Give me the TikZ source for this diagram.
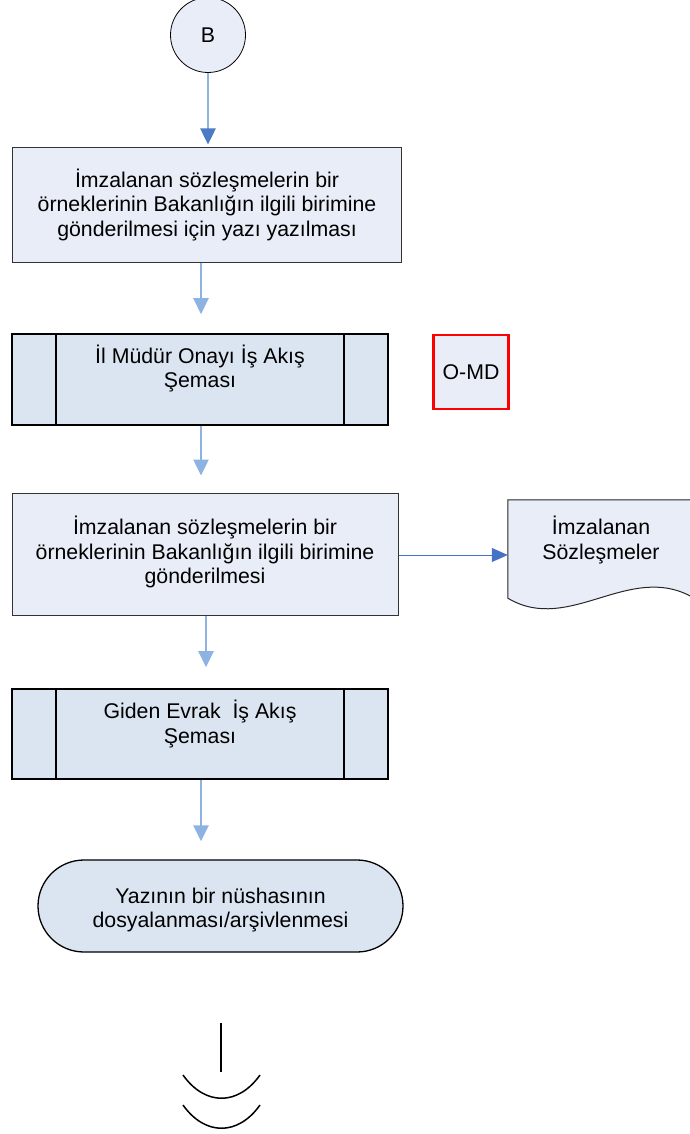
\documentclass[tikz,border=0pt]{standalone}
\usepackage{fontspec}
\setmainfont{Liberation Sans}
\usetikzlibrary{arrows.meta,calc}
\definecolor{fillA}{HTML}{E9EDF7}
\definecolor{fillB}{HTML}{DBE5F1}
\definecolor{lineblue}{HTML}{8DB3E2}
\definecolor{headblue}{HTML}{4A7BC4}
\definecolor{darkblue}{HTML}{4472C4}
\definecolor{redc}{HTML}{FF0000}
\tikzset{
  txt/.style={align=center, inner sep=0pt, font=\fontsize{21.3}{24.5}\selectfont},
  procbox/.style={txt, draw=black!80, line width=1pt, fill=fillA},
  pproc/.style={draw=black, line width=1.6pt, fill=fillB, inner sep=0pt},
  flow/.style={draw=lineblue, line width=2.5pt, -{Triangle[length=16pt,width=15pt,fill=lineblue]}},
  flowdark/.style={draw=lineblue, line width=2.5pt, -{Triangle[length=16pt,width=15pt,fill=headblue,color=headblue]}},
  sideflow/.style={draw=darkblue, line width=1pt, -{Triangle[length=16pt,width=14pt,fill=darkblue,color=darkblue]}},
}
\begin{document}
\begin{tikzpicture}[x=1pt,y=-1pt]
\useasboundingbox (0,0) rectangle (690,1134);
% connector B
\node[txt, circle, draw=black, line width=0.8pt, fill=fillA, minimum size=75pt] (B) at (208,35) {B};
% box 1
\node[procbox, minimum width=389pt, minimum height=114pt] (b1) at (207,205) {İmzalanan sözleşmelerin bir\\örneklerinin Bakanlığın ilgili birimine\\gönderilmesi için yazı yazılması};
% box 2 (predefined process)
\node[pproc, minimum width=376pt, minimum height=91pt] (b2) at (200,379.5) {};
\draw[line width=1.6pt] ($(b2.north west)+(45,0)$) -- ($(b2.south west)+(45,0)$);
\draw[line width=1.6pt] ($(b2.north east)+(-45,0)$) -- ($(b2.south east)+(-45,0)$);
\node[txt] (t2) at ($(b2.center)+(0,-11)$) {İl Müdür Onayı İş Akış\\Şeması};
% O-MD
\node[txt, draw=redc, line width=2.5pt, fill=fillA, minimum width=75pt, minimum height=74pt] (omd) at (471,372) {O-MD};
% box 3
\node[procbox, minimum width=386pt, minimum height=122pt] (b3) at (205,554) {};
\node[txt] (t3) at ($(b3.center)+(0,-2)$) {İmzalanan sözleşmelerin bir\\örneklerinin Bakanlığın ilgili birimine\\gönderilmesi};
% document
\node[inner sep=0pt, minimum width=186pt, minimum height=98pt] (doc) at (601,549) {};
\path[draw=black!85, line width=1pt, fill=fillA] (doc.south west) -- (doc.north west) -- (doc.north east) -- (doc.south east)
  .. controls ($(doc.south east)+(-64,-38)$) and ($(doc.south west)+(62,37)$) .. (doc.south west) -- cycle;
\node[txt] (tdoc) at ($(doc.center)+(0,-9)$) {İmzalanan\\Sözleşmeler};
% box 4 (predefined process)
\node[pproc, minimum width=376pt, minimum height=90pt] (b4) at (200,734) {};
\draw[line width=1.6pt] ($(b4.north west)+(45,0)$) -- ($(b4.south west)+(45,0)$);
\draw[line width=1.6pt] ($(b4.north east)+(-45,0)$) -- ($(b4.south east)+(-45,0)$);
\node[txt] (t4) at ($(b4.center)+(0,-10)$) {Giden Evrak \ İş Akış\\Şeması};
% terminal
\node[txt, draw=black, line width=1.3pt, fill=fillB, rounded corners=46pt, minimum width=365pt, minimum height=92pt] (term) at (220.5,906) {};
\node[txt] (tt) at ($(term.center)+(0,4)$) {Yazının bir nüshasının\\dosyalanması/arşivlenmesi};
% arrows
\coordinate (x1) at (208,0);
\coordinate (x2) at (201,0);
\coordinate (x3) at (201,0);
\coordinate (x4) at (206,0);
\coordinate (x5) at (201,0);
\draw[flowdark, shorten >=3pt] (B.south) -- (b1.north -| x1);
\draw[flow, shorten >=19pt] (b1.south -| x2) -- (b2.north -| x2);
\draw[flow, shorten >=17pt] (b2.south -| x3) -- (b3.north -| x3);
\draw[flow, shorten >=21pt] (b3.south -| x4) -- (b4.north -| x4);
\draw[flow, shorten >=18pt] (b4.south -| x5) -- (term.north -| x5);
\coordinate (dy) at (0,555);
\draw[sideflow] (b3.east |- dy) -- (doc.west |- dy);
% off-page continuation mark
\coordinate (v1) at (221,1023);
\coordinate (v2) at (221,1072);
\draw[line width=1.5pt] (v1) -- (v2);
\draw[line width=1.5pt] (183,1075) .. controls (205,1106) and (238,1106) .. (260,1075);
\draw[line width=1.5pt] (183,1105) .. controls (205,1136) and (238,1136) .. (260,1105);
\end{tikzpicture}
\end{document}
